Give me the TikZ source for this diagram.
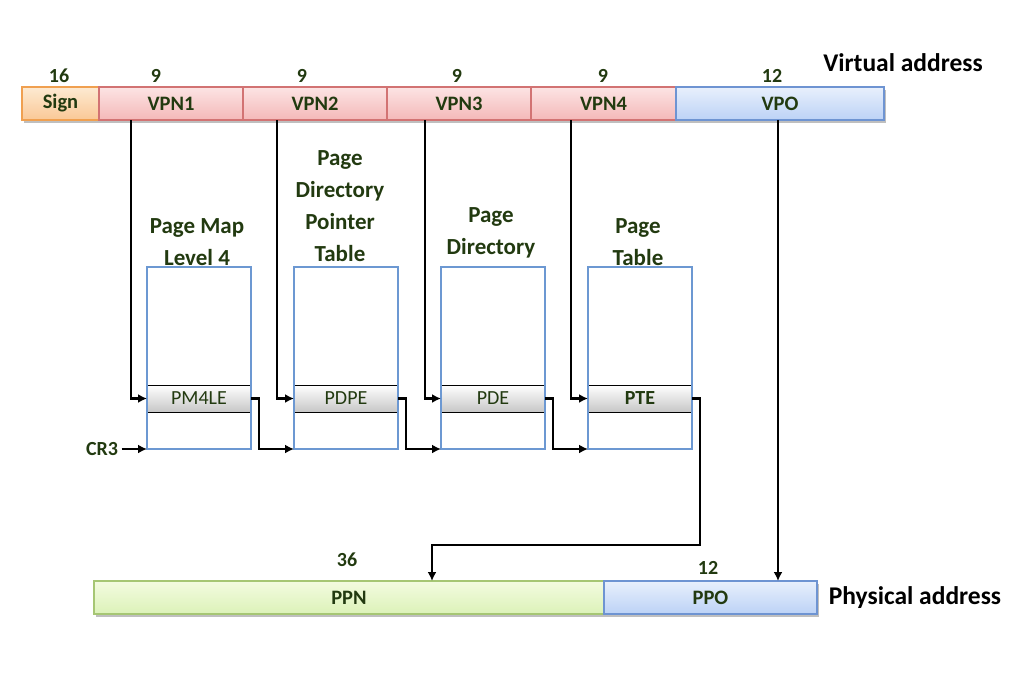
\documentclass[tikz,border=0pt]{standalone}
\usepackage{fontspec}
\setmainfont{Carlito}
\usepackage{xcolor}
\usetikzlibrary{arrows.meta,positioning,shadows}
\definecolor{labgreen}{RGB}{34,58,16}
\definecolor{signline}{RGB}{240,160,80}
\definecolor{signtop}{RGB}{253,234,210}
\definecolor{signbot}{RGB}{250,200,150}
\definecolor{vpnline}{RGB}{210,115,115}
\definecolor{vpntop}{RGB}{252,228,228}
\definecolor{vpnbot}{RGB}{244,184,184}
\definecolor{offline}{RGB}{110,148,210}
\definecolor{offtop}{RGB}{232,240,252}
\definecolor{offbot}{RGB}{188,210,246}
\definecolor{ppnline}{RGB}{166,198,116}
\definecolor{ppntop}{RGB}{243,251,224}
\definecolor{ppnbot}{RGB}{220,242,184}
\definecolor{tblblue}{RGB}{108,152,210}

\begin{document}
\begin{tikzpicture}[
 x=1pt,y=-1pt,
 every node/.style={text=labgreen},
 bar/.style={draw,line width=1.2pt,minimum height=33pt,inner sep=0pt,outer sep=0pt,
  font=\fontsize{20.5}{22}\selectfont\bfseries,
  drop shadow={shadow xshift=1.5pt,shadow yshift=-2.5pt,fill=black,opacity=.25}},
 signbar/.style={bar,draw=signline,top color=signtop,bottom color=signbot},
 vpnbar/.style={bar,draw=vpnline,top color=vpntop,bottom color=vpnbot},
 offbar/.style={bar,draw=offline,top color=offtop,bottom color=offbot},
 ppnbar/.style={bar,draw=ppnline,top color=ppntop,bottom color=ppnbot},
 num/.style={font=\fontsize{20}{22}\selectfont\bfseries},
 title/.style={text=black,font=\fontsize{25.5}{28}\selectfont\bfseries},
 tlabel/.style={align=center,font=\fontsize{23}{32}\selectfont\bfseries},
 tbl/.style={draw=tblblue,line width=1.8pt,minimum width=104pt,minimum height=182pt,
  inner sep=0pt,outer sep=0pt,anchor=north west},
 entry/.style={draw=black,line width=0.9pt,top color=white,bottom color=black!22,
  minimum width=104pt,minimum height=27pt,inner sep=0pt,outer sep=0pt,anchor=north west,
  font=\fontsize{20}{22}\selectfont},
 arr/.style={-{Latex[length=9pt,width=9pt]},line width=2.4pt}
]
\useasboundingbox (0,0) rectangle (1016,680);

% virtual address
\node[signbar,minimum width=77pt,anchor=north west] (sign) at (22,87) {Sign};
\node[vpnbar,minimum width=144pt,right=0pt of sign] (vpn1) {VPN1};
\node[vpnbar,minimum width=144pt,right=0pt of vpn1] (vpn2) {VPN2};
\node[vpnbar,minimum width=144pt,right=0pt of vpn2] (vpn3) {VPN3};
\node[vpnbar,minimum width=145pt,right=0pt of vpn3] (vpn4) {VPN4};
\node[offbar,minimum width=208pt,right=0pt of vpn4] (vpo) {VPO};
\node[num] (nsign) at (59,76) {16};
\node[num] (nvpn1) at (156,76) {9};
\node[num] (nvpn2) at (302,76) {9};
\node[num] (nvpn3) at (457,76) {9};
\node[num] (nvpn4) at (603,76) {9};
\node[num] (nvpo) at (772,76) {12};
\node[title] (vaddr) at (903,63) {Virtual address};

% page tables
\node[entry] (pm4le) at (147,385) {PM4LE};
\node[entry] (pdpe) at (294,385) {PDPE};
\node[entry] (pde) at (441,385) {PDE};
\node[entry,font=\fontsize{20}{22}\selectfont\bfseries] (pte) at (588,385) {PTE};
\node[tbl] (pml4) at (147,267) {};
\node[tbl] (pdpt) at (294,267) {};
\node[tbl] (pd) at (441,267) {};
\node[tbl] (pt) at (588,267) {};
\node[tlabel] (lpml4) at (197,242) {Page Map\\Level 4};
\node[tlabel] (lpdpt) at (340,206) {Page\\Directory\\Pointer\\Table};
\node[tlabel] (lpd) at (491,233) {Page\\Directory};
\node[tlabel] (lpt) at (638,242) {Page\\Table};
\node[num] (cr3) at (102,449) {CR3};

% physical address
\node[ppnbar,minimum width=510pt,anchor=north west] (ppn) at (94,581) {PPN};
\node[offbar,minimum width=213pt,right=0pt of ppn] (ppo) {PPO};
\node[num] (nppn) at (347,560) {36};
\node[num] (nppo) at (708,568) {12};
\node[title] (paddr) at (915,598) {Physical address};
\coordinate (ppnin) at ([xshift=83pt]ppn.north);

\draw[arr] ([xshift=-40pt]vpn1.south) |- (pm4le.west);
\draw[arr] ([xshift=-38pt]vpn2.south) |- (pdpe.west);
\draw[arr] ([xshift=-34pt]vpn3.south) |- (pde.west);
\draw[arr] ([xshift=-32.5pt]vpn4.south) |- (pte.west);
\draw[arr] (cr3) -- (pml4.south west);
\draw[arr] (pm4le.east) -- ++(8,0) |- (pdpt.south west);
\draw[arr] (pdpe.east) -- ++(8,0) |- (pd.south west);
\draw[arr] (pde.east) -- ++(8,0) |- (pt.south west);
\draw[arr] (pte.east) -- ++(8,0) |- ([yshift=36pt]ppnin) -- (ppnin);
\draw[arr] ([xshift=-2pt]vpo.south) -- ([xshift=-2pt]vpo.south |- ppo.north);
\end{tikzpicture}
\end{document}
